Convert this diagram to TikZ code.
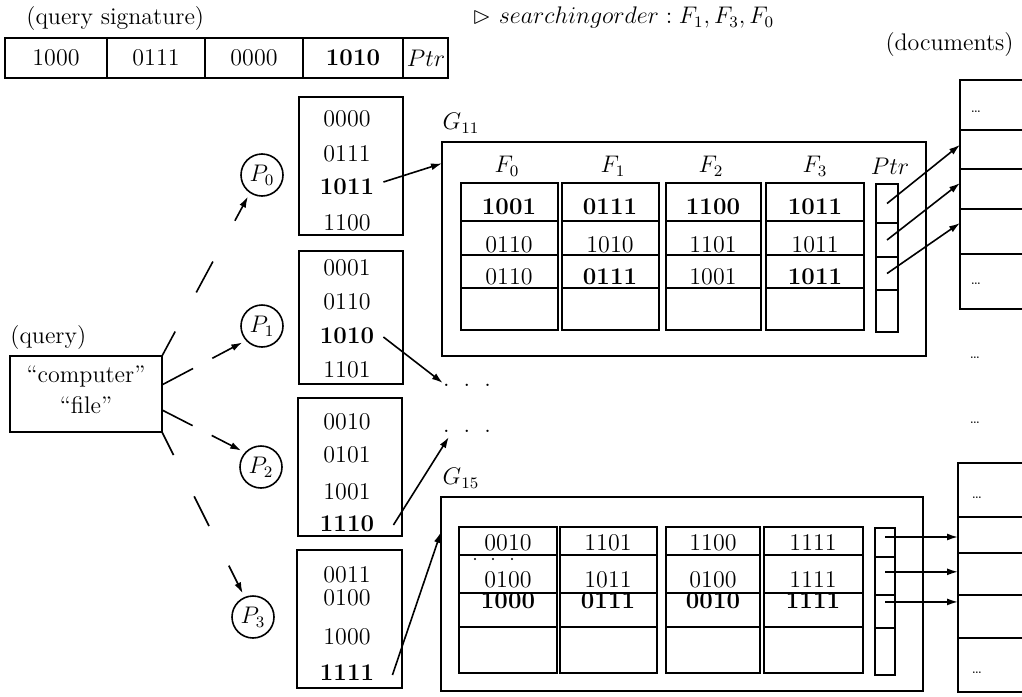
\documentclass[tikz,border=0pt]{standalone}
\usepackage{amssymb}
\usetikzlibrary{calc,arrows.meta}
\newcommand\mybox[5]{\node[box, minimum width={(#4-#2)*0.5pt}, minimum height={(#5-#3)*0.5pt}] (#1) at (#2,#3) {};}
\begin{document}
\begin{tikzpicture}[x=0.5pt,y=-0.5pt,
  every node/.append style={font=\fontsize{12}{14}\selectfont},
  box/.style={draw, line width=0.8pt, inner sep=0pt, outer sep=0pt, anchor=north west},
  lbl/.style={inner sep=1pt},
  conn/.style={line width=0.8pt},
  arr/.style={line width=0.8pt, -{Latex[length=5.5pt,width=3.5pt]}},
  circ/.style={draw, circle, line width=0.8pt, minimum size=21pt, inner sep=0pt}]
\clip (0,0) rectangle (1022,696);

% ---------- query signature ----------
\node[lbl, anchor=west] (qsl) at (24,19) {(query signature)};
\mybox{s0}{5}{38}{107}{78}
\mybox{s1}{107}{38}{205}{78}
\mybox{s2}{205}{38}{303}{78}
\mybox{s3}{303}{38}{403}{78}
\mybox{s4}{403}{38}{448}{78}
\node[lbl] (s0t) at (56,58) {1000};
\node[lbl] (s1t) at (156,58) {0111};
\node[lbl] (s2t) at (254,58) {0000};
\node[lbl] (s3t) at (353,58) {\textbf{1010}};
\node[lbl] (s4t) at (426,58) {$Ptr$};

\node[lbl, anchor=west] (so) at (470,18) {$\rhd\ searchingorder : F_1, F_3, F_0$};
\node[lbl, anchor=east] (docl) at (1016,45) {(documents)};

% ---------- documents ----------
\foreach [count=\i] \a/\b in {80/130,130/169,169/209,209/254,254/309} {\mybox{da\i}{960}{\a}{1040}{\b}}
\node[lbl] (da1t) at (976,112) {\scriptsize\dots};
\node[lbl] (da5t) at (976,284) {\scriptsize\dots};
\node[lbl] (dm1) at (975,358) {\scriptsize\dots};
\node[lbl] (dm2) at (975,423) {\scriptsize\dots};
\foreach [count=\i] \a/\b in {463/517,517/553,553/595,595/638,638/692} {\mybox{db\i}{958}{\a}{1040}{\b}}
\node[lbl] (db1t) at (977,498) {\scriptsize\dots};
\node[lbl] (db5t) at (977,673) {\scriptsize\dots};

% ---------- query ----------
\node[lbl, anchor=west] (ql) at (8,338) {(query)};
\mybox{q}{10}{356}{162}{432}
\node[lbl] (qc) at (86,376) {“computer”};
\node[lbl] (qf) at (86,405) {“file”};

% ---------- P circles ----------
\node[circ] (p0) at (262,175) {$P_0$};
\node[circ] (p1) at (262,326) {$P_1$};
\node[circ] (p2) at (261,467) {$P_2$};
\node[circ] (p3) at (253,617) {$P_3$};

% ---------- buckets ----------
\mybox{b0}{299}{97}{403}{235}
\mybox{b1}{299}{251}{403}{384}
\mybox{b2}{298}{398}{402}{536}
\mybox{b3}{297}{550}{402}{688}
\node[lbl] (b0t1) at (347,119) {0000};
\node[lbl] (b0t2) at (347,154) {0111};
\node[lbl] (b0t3) at (347,187) {\textbf{1011}};
\node[lbl] (b0t4) at (347,223) {1100};
\node[lbl] (b1t1) at (347,268) {0001};
\node[lbl] (b1t2) at (347,302) {0110};
\node[lbl] (b1t3) at (347,336) {\textbf{1010}};
\node[lbl] (b1t4) at (347,370) {1101};
\node[lbl] (b2t1) at (347,422) {0010};
\node[lbl] (b2t2) at (347,455) {0101};
\node[lbl] (b2t3) at (347,492) {1001};
\node[lbl] (b2t4) at (347,524) {\textbf{1110}};
\node[lbl] (b3t1) at (347,575) {0011};
\node[lbl] (b3t2) at (347,598) {0100};
\node[lbl] (b3t3) at (347,637) {1000};
\node[lbl] (b3t4) at (347,673) {\textbf{1111}};

% dots between groups
\node[lbl] (dA) at (467,385) {.\hspace{7pt}.\hspace{7pt}.};
\node[lbl] (dB) at (467,431) {.\hspace{7pt}.\hspace{7pt}.};

% ---------- G11 ----------
\mybox{g11}{442}{142}{926}{356}
\node[lbl] (g11l) at (461,123) {$G_{11}$};
\node[lbl] (h0) at (507,166) {$F_0$};
\node[lbl] (h1) at (613,166) {$F_1$};
\node[lbl] (h2) at (711,166) {$F_2$};
\node[lbl] (h3) at (815,166) {$F_3$};
\node[lbl] (hp) at (890,166) {$Ptr$};
\foreach [count=\c] \xa/\xb in {461/558,562/659,666/761,766/864} {
  \foreach [count=\r] \ya/\yb in {183/221,221/255,255/288,288/330} {\mybox{g11c\c r\r}{\xa}{\ya}{\xb}{\yb}}
}
\foreach [count=\r] \ya/\yb in {184/223,223/257,257/290,290/332} {\mybox{g11p\r}{876}{\ya}{898}{\yb}}
\node[lbl] (g11a1) at (509,207) {\textbf{1001}};
\node[lbl] (g11a2) at (509,245) {0110};
\node[lbl] (g11a3) at (509,277) {0110};
\node[lbl] (g11b1) at (610,207) {\textbf{0111}};
\node[lbl] (g11b2) at (610,245) {1010};
\node[lbl] (g11b3) at (610,277) {\textbf{0111}};
\node[lbl] (g11c1) at (713,207) {\textbf{1100}};
\node[lbl] (g11c2) at (713,245) {1101};
\node[lbl] (g11c3) at (713,277) {1001};
\node[lbl] (g11d1) at (815,207) {\textbf{1011}};
\node[lbl] (g11d2) at (815,245) {1011};
\node[lbl] (g11d3) at (815,277) {\textbf{1011}};

% ---------- G15 ----------
\mybox{g15}{441}{497}{923}{691}
\node[lbl] (g15l) at (461,478) {$G_{15}$};
\foreach [count=\c] \xa/\xb in {459/557,560/657,666/760,764/863} {
  \foreach [count=\r] \ya/\yb in {527/555,555/593,593/627,627/673} {\mybox{g15c\c r\r}{\xa}{\ya}{\xb}{\yb}}
}
\foreach [count=\r] \ya/\yb in {528/557,557/595,595/628,628/675} {\mybox{g15p\r}{875}{\ya}{895}{\yb}}
\node[lbl] (g15a1) at (508,543) {0010};
\node[lbl] (g15a2) at (508,580) {0100};
\node[lbl] (g15a3) at (508,601) {\textbf{1000}};
\node[lbl] (g15b1) at (608,543) {1101};
\node[lbl] (g15b2) at (608,580) {1011};
\node[lbl] (g15b3) at (608,601) {\textbf{0111}};
\node[lbl] (g15c1) at (713,543) {1100};
\node[lbl] (g15c2) at (713,580) {0100};
\node[lbl] (g15c3) at (713,601) {\textbf{0010}};
\node[lbl] (g15d1) at (813,543) {1111};
\node[lbl] (g15d2) at (813,580) {1111};
\node[lbl] (g15d3) at (813,601) {\textbf{1111}};
% small dots under 0010
\foreach \x in {475,493,512} {\fill (\x,559) circle[radius=0.6pt];}

% ---------- pointer arrows ----------
\draw[arr] (g11p1.center) -- ($(da2.north west)!0.38!(da2.south west)$);
\draw[arr] (g11p2.center) -- ($(da3.north west)!0.35!(da3.south west)$);
\draw[arr] (g11p3.center) -- ($(da4.north west)!0.31!(da4.south west)$);
\coordinate (r1) at ($(g15p1.north)!0.31!(g15p1.south)$);
\coordinate (r2) at ($(g15p2.north)!0.39!(g15p2.south)$);
\coordinate (r3) at ($(g15p3.north)!0.21!(g15p3.south)$);
\draw[arr] (r1) -- (r1 -| db2.west);
\draw[arr] (r2) -- (r2 -| db3.west);
\draw[arr] (r3) -- (r3 -| db4.west);

% ---------- bucket arrows ----------
\draw[arr] ($(b0t3.east)+(7,-5)$) -- ($(g11.north west)!0.1!(g11.south west)$);
\draw[arr] ($(b1t3.east)+(7,1)$) -- ($(dA.west)+(2,-2)$);
\draw[arr] ($(b2t4.east)+(17,1)$) -- ($(dB.west)+(8,6)$);
\draw[arr] ($(b3t4.east)+(16,2)$) -- ($(g15.north west)!0.18!(g15.south west)$);

% ---------- query to P connectors ----------
\coordinate (s0q) at (q.north east);
\coordinate (s1q) at ($(q.north east)!0.38!(q.south east)$);
\coordinate (s2q) at ($(q.north east)!0.71!(q.south east)$);
\coordinate (s3q) at (q.south east);
\coordinate (e0) at (p0.236);
\coordinate (e1) at (p1.222);
\coordinate (e2) at (p2.138);
\coordinate (e3) at (p3.113);
\draw[conn] (s0q) -- ($(s0q)!0.15!(e0)$);
\draw[conn] ($(s0q)!0.39!(e0)$) -- ($(s0q)!0.58!(e0)$);
\draw[arr, shorten >=2pt] ($(s0q)!0.83!(e0)$) -- (e0);
\draw[conn] (s1q) -- ($(s1q)!0.37!(e1)$);
\draw[arr, shorten >=2pt] ($(s1q)!0.6!(e1)$) -- (e1);
\draw[conn] (s2q) -- ($(s2q)!0.37!(e2)$);
\draw[arr, shorten >=2pt] ($(s2q)!0.6!(e2)$) -- (e2);
\draw[conn] (s3q) -- ($(s3q)!0.14!(e3)$);
\draw[conn] ($(s3q)!0.39!(e3)$) -- ($(s3q)!0.57!(e3)$);
\draw[arr, shorten >=2pt] ($(s3q)!0.81!(e3)$) -- (e3);
\end{tikzpicture}
\end{document}
